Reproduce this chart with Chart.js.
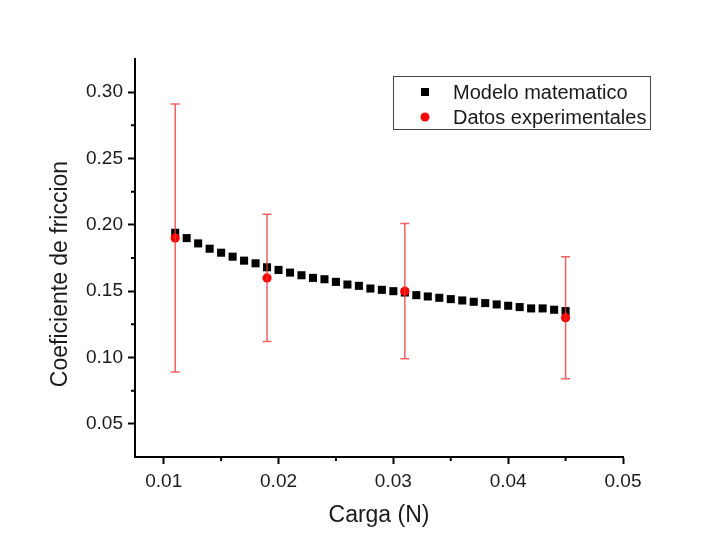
<!DOCTYPE html>
<html>
<head>
<meta charset="utf-8">
<title>Coeficiente de friccion</title>
<script src="https://cdn.jsdelivr.net/npm/chart.js@4.4.1/dist/chart.umd.min.js"></script>
<style>
  html, body { margin: 0; padding: 0; background: #fff; }
</style>
</head>
<body>
<canvas id="grafico" width="707" height="552"></canvas>
<script>
//Modelo matematico (carga en N, coeficiente)
const cargaModelo = [0.011, 0.012, 0.013, 0.014, 0.015, 0.016, 0.017, 0.018, 0.019, 0.020,
  0.021, 0.022, 0.023, 0.024, 0.025, 0.026, 0.027, 0.028, 0.029, 0.030,
  0.031, 0.032, 0.033, 0.034, 0.035, 0.036, 0.037, 0.038, 0.039, 0.040,
  0.041, 0.042, 0.043, 0.044, 0.045];
const coefModelo = [0.194, 0.190, 0.186, 0.182, 0.179, 0.176, 0.173, 0.171, 0.168, 0.166,
  0.164, 0.162, 0.160, 0.159, 0.157, 0.155, 0.154, 0.152, 0.151, 0.150,
  0.149, 0.147, 0.146, 0.145, 0.144, 0.143, 0.142, 0.141, 0.140, 0.139,
  0.138, 0.137, 0.137, 0.136, 0.135];
//Datos experimentales con su error
const cargaExp = [0.011, 0.019, 0.031, 0.045];
const coefExp = [0.190, 0.160, 0.150, 0.130];
const errorExp = [0.101, 0.048, 0.051, 0.046];
//Ticks de los ejes
const ticksX = [0.01, 0.02, 0.03, 0.04, 0.05];
const ticksY = [0.05, 0.10, 0.15, 0.20, 0.25, 0.30];
const menoresX = [0.015, 0.025, 0.035, 0.045];
const menoresY = [0.075, 0.125, 0.175, 0.225, 0.275];

const fuente = "'Liberation Sans', Arial, sans-serif";
const colorTexto = '#1a1a1a';

//barras de error rojas con tapas
const barrasError = {
  id: 'barrasError',
  afterDatasetsDraw(chart) {
    const ctx = chart.ctx;
    const x = chart.scales.x, y = chart.scales.y;
    ctx.save();
    ctx.strokeStyle = 'rgba(238, 55, 55, 0.8)';
    ctx.lineWidth = 1.5;
    for (let i = 0; i < cargaExp.length; i++) {
      const px = x.getPixelForValue(cargaExp[i]);
      const top = y.getPixelForValue(coefExp[i] + errorExp[i]);
      const bot = y.getPixelForValue(coefExp[i] - errorExp[i]);
      ctx.beginPath();
      ctx.moveTo(px, top); ctx.lineTo(px, bot);
      ctx.moveTo(px - 4.5, top); ctx.lineTo(px + 4.5, top);
      ctx.moveTo(px - 4.5, bot); ctx.lineTo(px + 4.5, bot);
      ctx.stroke();
    }
    ctx.restore();
  }
};

//ticks menores, mas cortos que los principales
const ticksMenores = {
  id: 'ticksMenores',
  afterDraw(chart) {
    const ctx = chart.ctx;
    const x = chart.scales.x, y = chart.scales.y;
    const area = chart.chartArea;
    ctx.save();
    ctx.strokeStyle = '#000';
    ctx.lineWidth = 2;
    ctx.beginPath();
    menoresX.forEach(v => {
      const px = x.getPixelForValue(v);
      ctx.moveTo(px, area.bottom); ctx.lineTo(px, area.bottom + 4);
    });
    menoresY.forEach(v => {
      const py = y.getPixelForValue(v);
      ctx.moveTo(area.left, py); ctx.lineTo(area.left - 4, py);
    });
    ctx.stroke();
    ctx.restore();
  }
};

//titulo del eje Y (rotado)
const tituloY = {
  id: 'tituloY',
  afterDraw(chart) {
    const ctx = chart.ctx;
    const area = chart.chartArea;
    ctx.save();
    ctx.translate(61, (area.top + area.bottom) / 2 + 16);
    ctx.rotate(-Math.PI / 2);
    ctx.font = '23px ' + fuente;
    ctx.fillStyle = colorTexto;
    ctx.textAlign = 'center';
    ctx.textBaseline = 'middle';
    ctx.fillText('Coeficiente de friccion', 0, 0);
    ctx.restore();
  }
};

//leyenda con recuadro dentro del area
const leyenda = {
  id: 'leyenda',
  afterDraw(chart) {
    const ctx = chart.ctx;
    const area = chart.chartArea;
    const bx = area.left + 258, by = area.top + 17, bw = 257, bh = 53;
    ctx.save();
    ctx.strokeStyle = '#444';
    ctx.lineWidth = 1;
    ctx.strokeRect(bx + 0.5, by + 0.5, bw, bh);
    ctx.font = '20px ' + fuente;
    ctx.textBaseline = 'middle';
    chart.data.datasets.forEach((ds, i) => {
      const cy = by + 16 + i * 25;
      const mx = bx + 32;
      ctx.fillStyle = ds.backgroundColor;
      if (ds.pointStyle === 'rect') {
        ctx.fillRect(mx - 4, cy - 4, 8, 8);
      } else {
        ctx.beginPath();
        ctx.arc(mx, cy, 4.5, 0, Math.PI * 2);
        ctx.fill();
      }
      ctx.fillStyle = colorTexto;
      ctx.fillText(ds.label, bx + 60, cy + 1);
    });
    ctx.restore();
  }
};

const ctx = document.getElementById('grafico').getContext('2d');
const myChart = new Chart(ctx, {
  type: 'scatter',
  data: {
    datasets: [{
      label: 'Modelo matematico',
      data: cargaModelo.map((c, i) => ({ x: c, y: coefModelo[i] })),
      pointStyle: 'rect',
      pointRadius: 5.7,
      pointHoverRadius: 5.7,
      backgroundColor: '#000',
      borderColor: '#000',
      borderWidth: 0,
      order: 1
    }, {
      label: 'Datos experimentales',
      data: cargaExp.map((c, i) => ({ x: c, y: coefExp[i] })),
      pointStyle: 'circle',
      pointRadius: 4.6,
      pointHoverRadius: 4.6,
      backgroundColor: '#ff0000',
      borderColor: '#ff0000',
      borderWidth: 0,
      order: 0
    }]
  },
  options: {
    responsive: false,
    animation: false,
    devicePixelRatio: 1,
    layout: { padding: { left: 50, right: 84, top: 59, bottom: 0 } },
    plugins: {
      legend: { display: false },
      tooltip: { enabled: false }
    },
    scales: {
      x: {
        type: 'linear',
        min: 0.0075,
        max: 0.05,
        afterFit(scale) { scale.height = 95; },
        afterBuildTicks(scale) { scale.ticks = ticksX.map(v => ({ value: v })); },
        border: { display: true, color: '#000', width: 2 },
        grid: { drawOnChartArea: false, drawTicks: true, tickLength: 7, tickWidth: 2, tickColor: '#000' },
        ticks: {
          padding: 6,
          color: colorTexto,
          font: { family: fuente, size: 19 },
          maxRotation: 0,
          callback: v => v.toFixed(2)
        },
        title: {
          display: true,
          text: 'Carga (N)',
          color: colorTexto,
          font: { family: fuente, size: 23 },
          padding: { top: 0, bottom: 23 }
        }
      },
      y: {
        type: 'linear',
        min: 0.025,
        max: 0.325,
        afterFit(scale) { scale.width = 85; },
        afterBuildTicks(scale) { scale.ticks = ticksY.map(v => ({ value: v })); },
        border: { display: true, color: '#000', width: 2 },
        grid: { drawOnChartArea: false, drawTicks: true, tickLength: 7, tickWidth: 2, tickColor: '#000' },
        ticks: {
          padding: 5,
          color: colorTexto,
          font: { family: fuente, size: 19 },
          callback: v => v.toFixed(2)
        }
      }
    }
  },
  plugins: [barrasError, ticksMenores, tituloY, leyenda]
});
</script>
</body>
</html>
